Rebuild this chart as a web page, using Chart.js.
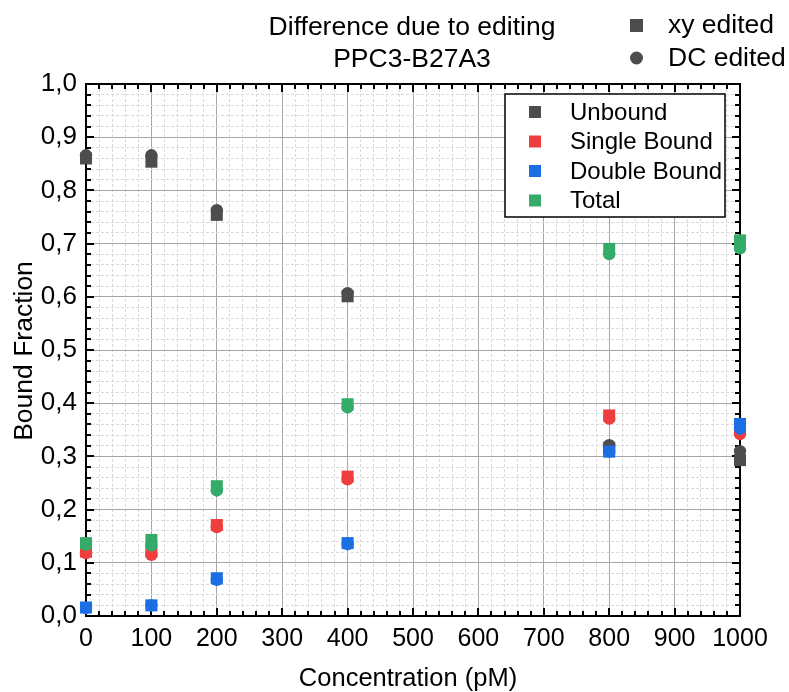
<!DOCTYPE html>
<html>
<head>
<meta charset="utf-8">
<script src="https://cdn.jsdelivr.net/npm/chart.js@4"></script>
<style>
  html, body { margin: 0; padding: 0; background: #fff; }
  #wrap { width: 789px; height: 692px; }
</style>
</head>
<body>
<div id="wrap"><canvas id="myChart" width="789" height="692"></canvas></div>
<script>
// concentrations (pM)
var conc = [0, 100, 200, 400, 800, 1000];

// xy edited (squares)
var unboundXY = [0.860, 0.854, 0.754, 0.601, 0.316, 0.293];
var singleXY  = [0.121, 0.121, 0.171, 0.262, 0.377, 0.350];
var doubleXY  = [0.016, 0.020, 0.071, 0.137, 0.309, 0.361];
var totalXY   = [0.137, 0.143, 0.244, 0.398, 0.690, 0.706];

// DC edited (circles)
var unboundDC = [0.866, 0.866, 0.763, 0.607, 0.321, 0.310];
var singleDC  = [0.118, 0.115, 0.167, 0.257, 0.371, 0.342];
var doubleDC  = [0.015, 0.020, 0.068, 0.135, 0.309, 0.352];
var totalDC   = [0.134, 0.133, 0.236, 0.392, 0.680, 0.691];

var seriesNames = ['Unbound', 'Single Bound', 'Double Bound', 'Total'];
var seriesColors = ['#4d4d4d', '#ef3e3e', '#1b6fe3', '#34ab69'];
var titleLines = ['Difference due to editing', 'PPC3-B27A3'];
var markerNames = ['xy edited', 'DC edited'];

var FONT = '"Liberation Sans", Arial, sans-serif';

function pts(ys) {
  return conc.map(function (x, i) { return { x: x, y: ys[i] }; });
}

function makeSet(label, ys, color, style, order) {
  return {
    label: label,
    data: pts(ys),
    backgroundColor: color,
    borderColor: color,
    borderWidth: 0,
    pointStyle: style,
    pointRadius: style === 'rect' ? 8.5 : 6.2,
    pointHoverRadius: style === 'rect' ? 8.5 : 6.2,
    clip: false,
    order: order
  };
}

var xySets = [unboundXY, singleXY, doubleXY, totalXY];
var dcSets = [unboundDC, singleDC, doubleDC, totalDC];
var datasets = [];
for (var i = 0; i < 4; i++) {
  datasets.push(makeSet(seriesNames[i] + ' xy', xySets[i], seriesColors[i], 'rect', 20 - i * 2));
  datasets.push(makeSet(seriesNames[i] + ' DC', dcSets[i], seriesColors[i], 'circle', 19 - i * 2));
}

function isMajorY(v) { return Math.abs(v * 10 - Math.round(v * 10)) < 1e-6; }
function isMajorX(v) { return Math.round(v) % 100 === 0; }

// frame, inward ticks, axis titles, legends
var decorations = {
  id: 'decorations',
  beforeDatasetsDraw: function (chart) {
    var ctx = chart.ctx;
    var a = chart.chartArea;
    var xs = chart.scales.x, ys = chart.scales.y;
    ctx.save();
    ctx.strokeStyle = '#000';
    ctx.lineWidth = 2;
    ctx.beginPath();
    xs.ticks.forEach(function (t) {
      var px = Math.round(xs.getPixelForValue(t.value));
      var len = isMajorX(t.value) ? 8 : 5;
      ctx.moveTo(px, a.bottom); ctx.lineTo(px, a.bottom - len);
      ctx.moveTo(px, a.top); ctx.lineTo(px, a.top + len);
    });
    ys.ticks.forEach(function (t) {
      var py = Math.round(ys.getPixelForValue(t.value));
      var len = isMajorY(t.value) ? 8 : 5;
      ctx.moveTo(a.left, py); ctx.lineTo(a.left + len, py);
      ctx.moveTo(a.right, py); ctx.lineTo(a.right - len, py);
    });
    ctx.stroke();
    ctx.strokeRect(a.left, a.top, a.right - a.left, a.bottom - a.top);
    ctx.restore();
  },
  afterDraw: function (chart) {
    var ctx = chart.ctx;
    var a = chart.chartArea;
    ctx.save();
    ctx.fillStyle = '#000';
    ctx.textBaseline = 'middle';

    // title
    ctx.font = '26.5px ' + FONT;
    ctx.textAlign = 'center';
    ctx.fillText(titleLines[0], 412, 28);
    ctx.fillText(titleLines[1], 412, 60);

    // marker legend (top right)
    ctx.fillStyle = '#4d4d4d';
    ctx.fillRect(630, 19, 13, 13);
    ctx.beginPath();
    ctx.arc(636.5, 58, 6.5, 0, Math.PI * 2);
    ctx.fill();
    ctx.fillStyle = '#000';
    ctx.textAlign = 'left';
    ctx.fillText(markerNames[0], 668, 26);
    ctx.fillText(markerNames[1], 668, 59);

    // axis titles
    ctx.font = '25.5px ' + FONT;
    ctx.textAlign = 'center';
    ctx.fillText('Concentration (pM)', 408, 679);
    ctx.font = '26.5px ' + FONT;
    ctx.save();
    ctx.translate(25, 351);
    ctx.rotate(-Math.PI / 2);
    ctx.fillText('Bound Fraction', 0, 0);
    ctx.restore();

    // series legend box
    var bx = 505, by = 94, bw = 220, bh = 123;
    ctx.fillStyle = '#fff';
    ctx.fillRect(bx, by, bw, bh);
    ctx.strokeStyle = '#000';
    ctx.lineWidth = 1.5;
    ctx.strokeRect(bx, by, bw, bh);
    ctx.font = '24px ' + FONT;
    ctx.textAlign = 'left';
    for (var i = 0; i < seriesNames.length; i++) {
      var cy = 112 + i * 29.5;
      ctx.fillStyle = seriesColors[i];
      ctx.fillRect(529, cy - 6, 12, 12);
      ctx.fillStyle = '#000';
      ctx.fillText(seriesNames[i], 570, cy + 1);
    }
    ctx.restore();
  }
};

const ctx = document.getElementById('myChart');

const config = {
  type: 'scatter',
  data: { datasets: datasets },
  options: {
    responsive: false,
    animation: false,
    layout: { padding: { left: 0, right: 49, top: 84, bottom: 0 } },
    scales: {
      x: {
        type: 'linear',
        min: 0,
        max: 1000,
        afterFit: function (s) { s.height = 76; },
        border: {
          display: false,
          dash: function (c) { return c.tick && isMajorX(c.tick.value) ? [] : [3, 2]; }
        },
        grid: {
          drawTicks: false,
          color: function (c) { return c.tick && isMajorX(c.tick.value) ? '#a6a6a6' : '#d9d9d9'; },
          lineWidth: 1
        },
        ticks: {
          stepSize: 20,
          autoSkip: false,
          maxRotation: 0,
          padding: 8,
          color: '#000',
          font: { family: FONT, size: 25 },
          callback: function (v) { return isMajorX(v) ? String(Math.round(v)) : ''; }
        }
      },
      y: {
        min: 0,
        max: 1,
        afterFit: function (s) { s.width = 86; },
        border: {
          display: false,
          dash: function (c) { return c.tick && isMajorY(c.tick.value) ? [] : [3, 2]; }
        },
        grid: {
          drawTicks: false,
          color: function (c) { return c.tick && isMajorY(c.tick.value) ? '#a6a6a6' : '#d9d9d9'; },
          lineWidth: 1
        },
        ticks: {
          stepSize: 0.02,
          autoSkip: false,
          padding: 9,
          color: '#000',
          font: { family: FONT, size: 26 },
          callback: function (v) { return isMajorY(v) ? v.toFixed(1).replace('.', ',') : ''; }
        }
      }
    },
    plugins: {
      legend: { display: false },
      title: { display: false },
      tooltip: { enabled: false }
    }
  },
  plugins: [decorations]
};

new Chart(ctx, config);
</script>
</body>
</html>
